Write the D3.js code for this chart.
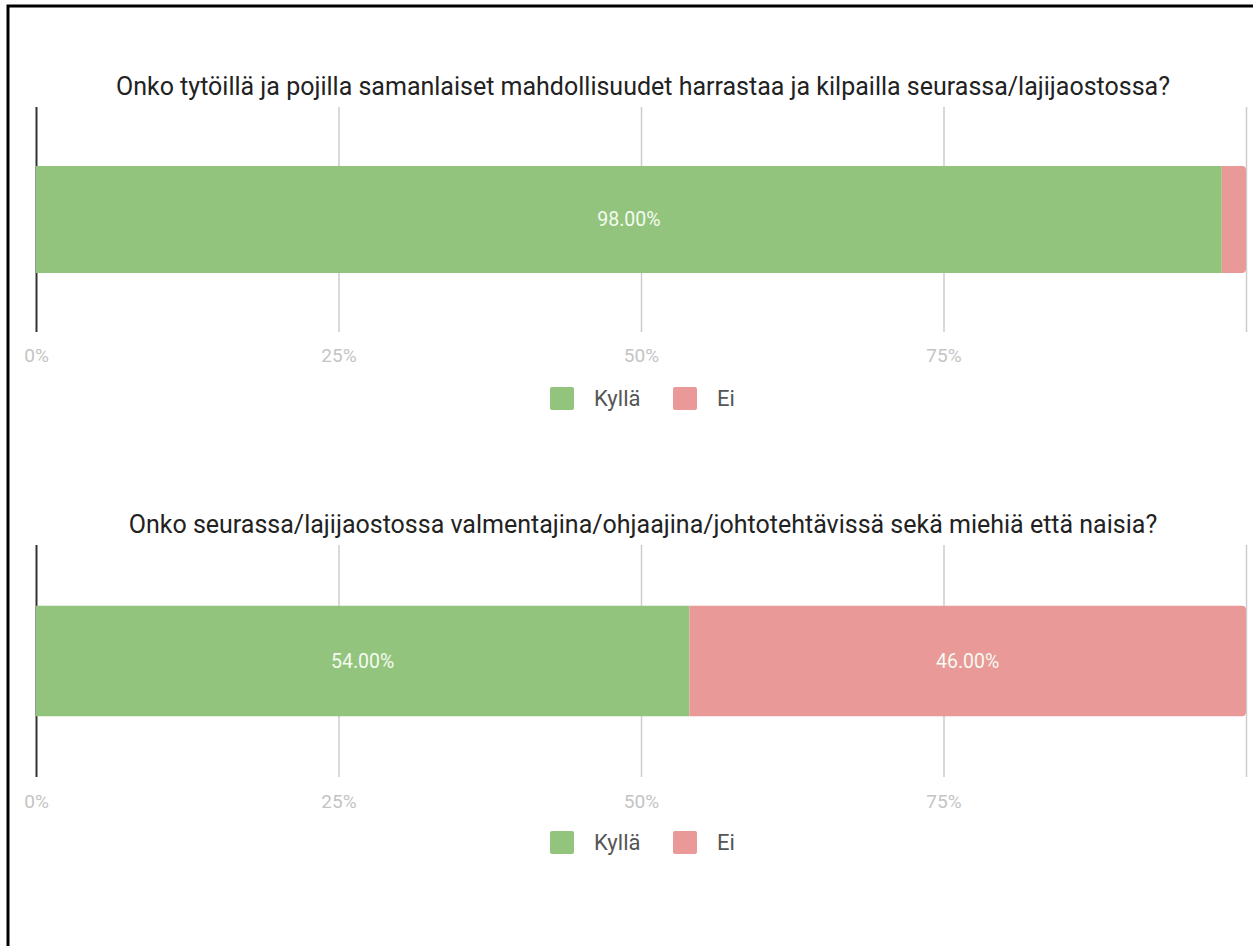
<!DOCTYPE html>
<html>
<head>
<meta charset="utf-8">
<script src="https://cdn.jsdelivr.net/npm/d3@7"></script>
<style>
  body { margin: 0; background: #fff; }
  svg { display: block; font-family: Roboto, "Noto Sans", sans-serif; }
</style>
</head>
<body>
<svg id="graf" width="1253" height="946"></svg>
<script>
const otsikot = [
  "Onko tytöillä ja pojilla samanlaiset mahdollisuudet harrastaa ja kilpailla seurassa/lajijaostossa?",
  "Onko seurassa/lajijaostossa valmentajina/ohjaajina/johtotehtävissä sekä miehiä että naisia?"
];
const sarjat = ["Kyllä", "Ei"];
const kylla = [0.98, 0.54];
const ei = [0.02, 0.46];
const tikit = [0, 0.25, 0.5, 0.75, 1];
const tikkiTekstit = ["0%", "25%", "50%", "75%", ""];
const varit = ["#93c47d", "#ea9999"];

const svg = d3.select("#graf");

// kehys (vain ylä- ja vasen reuna)
svg.append("path")
  .attr("d", "M8,1253 L8,6 L1253,6")
  .attr("fill", "none")
  .attr("stroke", "#000")
  .attr("stroke-width", 3);

const asettelu = [
  {otsikkoY: 86, ylos: 107, alas: 332, tikkiY: 355, selitysY: 398},
  {otsikkoY: 524, ylos: 545, alas: 777, tikkiY: 801, selitysY: 842}
];

const x = d3.scaleLinear().domain([0, 1]).range([36, 1246]);
const color = d3.scaleOrdinal().domain(sarjat).range(varit);

asettelu.forEach((a, i) => {
  const g = svg.append("g");

  g.append("text")
    .attr("x", 643).attr("y", a.otsikkoY)
    .attr("text-anchor", "middle")
    .attr("dominant-baseline", "central")
    .attr("font-size", 25)
    .attr("fill", "#222")
    .text(otsikot[i]);

  const y = d3.scaleBand().domain([0]).range([a.ylos, a.alas]).paddingInner(0).paddingOuter(0.55);

  // ruudukko
  const ax = d3.axisBottom(x).tickValues(tikit).tickSize(-(a.alas - a.ylos)).tickFormat((d, j) => tikkiTekstit[j]);
  const axg = g.append("g").attr("transform", `translate(0,${a.alas})`).call(ax);
  axg.select(".domain").remove();
  axg.selectAll(".tick line").attr("stroke", (d) => d === 0 ? "#333" : "#ccc").attr("stroke-width", (d) => d === 0 ? 2 : 1.5);
  axg.selectAll(".tick text")
    .attr("y", a.tikkiY - a.alas)
    .attr("dy", "0.35em")
    .attr("font-size", 19)
    .attr("font-family", "Roboto, sans-serif")
    .attr("fill", "#c4c4c4");

  const pinot = d3.stack().keys(sarjat)([{ "Kyllä": kylla[i], "Ei": ei[i] }]);
  const bw = y.bandwidth();
  pinot.forEach((s, k) => {
    const d = s[0];
    const x0 = x(d[0]), x1 = x(d[1]), y0 = y(0);
    const r = 4;
    let p;
    if (k === sarjat.length - 1) {
      p = `M${x0},${y0} H${x1 - r} Q${x1},${y0} ${x1},${y0 + r} V${y0 + bw - r} Q${x1},${y0 + bw} ${x1 - r},${y0 + bw} H${x0} Z`;
    } else {
      p = `M${x0},${y0} H${x1} V${y0 + bw} H${x0} Z`;
    }
    g.append("path").attr("d", p).attr("fill", color(s.key));
    if (d[1] - d[0] > 0.05) {
      g.append("text")
        .attr("x", (x0 + x1) / 2).attr("y", y0 + bw / 2)
        .attr("text-anchor", "middle")
        .attr("dominant-baseline", "central")
        .attr("font-size", 19.5)
        .attr("fill", "#f4fbf0")
        .text(d3.format(".2%")(d[1] - d[0]));
    }
  });

  // selite
  const sel = g.append("g");
  const sx = [550, 673];
  sarjat.forEach((s, k) => {
    sel.append("rect")
      .attr("x", sx[k]).attr("y", a.selitysY - 11)
      .attr("width", 24).attr("height", 23).attr("rx", 2)
      .attr("fill", color(s));
    sel.append("text")
      .attr("x", sx[k] + 44).attr("y", a.selitysY)
      .attr("dominant-baseline", "central")
      .attr("font-size", 22)
      .attr("fill", "#555")
      .text(s);
  });
});
</script>
</body>
</html>
